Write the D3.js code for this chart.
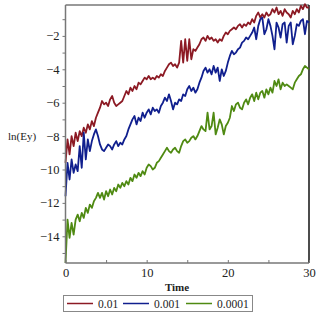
<!DOCTYPE html>
<html>
<head>
<script src="https://d3js.org/d3.v7.min.js"></script>
<style>
  body { margin: 0; background: #fff; }
  text { font-family: "Liberation Serif", "DejaVu Serif", serif; fill: #222; }
</style>
</head>
<body>
<svg id="chart" width="319" height="319"></svg>
<script>
// time step 0.25 from 0 to 30
var times = d3.range(0, 30.001, 0.25);

var red01 = [-9.6,-8.2,-9.1,-8.0,-8.6,-7.8,-8.3,-7.7,-8.0,-7.5,-7.8,-7.3,-7.6,-7.1,-7.4,-6.9,
  -6.6,-6.3,-5.9,-6.1,-6.0,-6.2,-5.8,-5.6,-6.0,-6.2,-6.1,-6.0,-5.9,-5.6,-5.3,-5.5,
  -5.1,-5.3,-5.0,-5.2,-4.8,-4.9,-4.7,-4.5,-4.6,-4.4,-4.6,-4.5,-4.6,-4.4,-4.5,-4.3,
  -4.4,-4.1,-3.9,-3.7,-3.6,-3.8,-3.7,-3.9,-3.6,-2.3,-3.6,-2.2,-3.5,-2.2,-3.4,-2.8,
  -2.9,-2.7,-2.5,-2.2,-2.1,-2.3,-2.0,-2.2,-2.1,-2.3,-2.2,-2.4,-2.2,-2.3,-2.0,-1.8,
  -1.9,-1.7,-1.6,-1.5,-1.6,-1.4,-1.3,-1.5,-1.3,-1.4,-1.2,-1.3,-1.0,-1.2,-0.8,-0.6,
  -0.9,-0.7,-0.9,-0.6,-0.8,-0.7,-0.4,-0.6,-0.3,-0.7,-0.5,-0.8,-0.4,-0.6,-0.7,-0.9,
  -0.5,-0.7,-0.4,-0.6,-0.2,-0.4,-0.1,-0.3,-0.3];

var blue001 = [-11.6,-9.6,-10.6,-9.4,-10.2,-9.7,-10.1,-8.6,-9.9,-7.8,-9.4,-8.2,-8.9,-8.3,-7.9,-7.6,
  -8.0,-8.5,-8.8,-8.9,-8.7,-8.5,-8.6,-8.8,-8.5,-8.3,-8.6,-8.4,-8.5,-8.2,-8.0,-7.6,
  -7.3,-7.0,-6.8,-7.3,-6.9,-7.1,-6.6,-6.9,-6.6,-6.4,-6.7,-6.3,-6.5,-6.4,-6.6,-6.2,
  -6.0,-5.7,-5.9,-5.5,-5.9,-6.4,-6.0,-6.1,-5.8,-5.9,-5.5,-5.6,-5.2,-5.0,-5.3,-5.1,
  -5.4,-5.2,-4.8,-4.5,-4.1,-3.9,-4.2,-4.0,-4.3,-3.8,-4.2,-3.9,-4.7,-4.0,-4.4,-4.1,
  -3.6,-3.2,-2.9,-3.1,-3.0,-2.8,-2.7,-2.4,-2.3,-2.1,-2.2,-2.0,-1.8,-1.5,-2.2,-1.4,
  -1.0,-0.9,-1.9,-1.6,-1.0,-1.4,-2.0,-2.8,-1.2,-1.5,-2.1,-1.3,-1.2,-2.4,-1.4,-1.2,
  -2.5,-2.0,-1.3,-1.4,-1.1,-1.0,-1.9,-1.1,-1.2];

var green0001 = [-15.6,-13.0,-14.1,-13.2,-13.9,-13.0,-12.7,-13.1,-12.6,-12.9,-12.3,-12.6,-12.1,-12.3,-11.9,-11.7,
  -11.4,-11.7,-11.4,-11.8,-11.3,-11.6,-11.2,-11.5,-11.1,-11.3,-10.9,-11.1,-10.8,-11.0,-10.7,-10.9,
  -10.5,-10.7,-10.3,-10.5,-10.2,-10.4,-10.1,-10.3,-9.9,-9.7,-9.8,-10.0,-9.9,-9.6,-9.5,-9.3,
  -9.1,-8.9,-8.7,-8.9,-9.0,-8.8,-8.7,-8.9,-9.0,-8.6,-8.3,-8.2,-8.4,-8.3,-8.1,-8.0,
  -8.2,-8.0,-7.7,-7.4,-7.6,-7.7,-6.6,-7.6,-7.4,-6.6,-7.9,-7.5,-7.0,-7.3,-7.9,-7.4,
  -7.2,-6.9,-6.2,-6.5,-6.1,-6.0,-6.3,-6.4,-6.0,-5.8,-6.1,-5.7,-5.5,-5.9,-5.4,-5.8,
  -5.4,-5.3,-5.7,-5.2,-5.5,-5.1,-5.4,-4.7,-5.0,-4.6,-5.2,-4.8,-5.0,-4.9,-5.0,-5.1,
  -5.2,-4.8,-4.6,-4.4,-4.3,-4.0,-3.8,-3.9,-4.0];

var seriesNames = ["0.01", "0.001", "0.0001"];
var seriesColors = ["#8c1a24", "#101f8e", "#4f8a12"];
var seriesData = [red01, blue001, green0001];

var yMajor = [-14, -12, -10, -8, -6, -4, -2];
var xMajor = [0, 10, 20, 30];

var svg = d3.select("#chart");
var margin = {left: 65.5, right: 309, top: 5, bottom: 263};

var x = d3.scaleLinear().domain([0, 30]).range([margin.left, margin.right]);
var y = d3.scaleLinear().domain([-15.6, -0.15]).range([margin.bottom, margin.top]);

// frame: top gray, right black
svg.append("line").attr("x1", margin.left).attr("x2", margin.right)
  .attr("y1", margin.top).attr("y2", margin.top)
  .attr("stroke", "#777").attr("stroke-width", 1.5);
svg.append("line").attr("x1", margin.right).attr("x2", margin.right)
  .attr("y1", margin.top).attr("y2", margin.bottom)
  .attr("stroke", "#111").attr("stroke-width", 1.5);

// lines
var line = d3.line()
  .x(function(d, i) { return x(times[i]); })
  .y(function(d) { return y(d); });

seriesData.forEach(function(s, k) {
  svg.append("path")
    .datum(s)
    .attr("fill", "none")
    .attr("stroke", seriesColors[k])
    .attr("stroke-width", 1.8)
    .attr("stroke-linejoin", "round")
    .attr("d", line);
});

// y axis
var yAxis = d3.axisLeft(y)
  .tickValues(d3.range(-15, -0.5, 1))
  .tickSize(3)
  .tickFormat(function(d) { return yMajor.indexOf(d) >= 0 ? "\u2212" + Math.abs(d) : ""; });
var gy = svg.append("g").attr("transform", "translate(" + margin.left + ",0)").call(yAxis);
gy.select(".domain").attr("stroke", "#777").attr("stroke-width", 1.5).attr("d", "M0," + margin.top + "V" + margin.bottom);
gy.selectAll(".tick line").attr("stroke", "#777");
gy.selectAll(".tick text").attr("font-size", 12.5).attr("font-family", "Liberation Serif").attr("fill", "#222").attr("x", -6);

// x axis
var xAxis = d3.axisBottom(x)
  .tickValues(d3.range(0, 30.1, 5))
  .tickSize(-3)
  .tickFormat(function(d) { return xMajor.indexOf(d) >= 0 ? d : ""; });
var gx = svg.append("g").attr("transform", "translate(0," + margin.bottom + ")").call(xAxis);
gx.select(".domain").attr("stroke", "#777").attr("stroke-width", 1.5).attr("d", "M" + margin.left + ",0H" + margin.right);
gx.selectAll(".tick line").attr("stroke", "#777");
gx.selectAll(".tick text").attr("font-size", 12.5).attr("font-family", "Liberation Serif").attr("fill", "#222").attr("y", 5);

// axis titles
svg.append("text").attr("x", 8).attr("y", 140).attr("font-size", 11).text("ln(Ey)");
svg.append("text").attr("x", 177).attr("y", 291).attr("text-anchor", "middle")
  .attr("font-size", 11).attr("font-weight", "bold").text("Time");

// legend
var legend = svg.append("g");
legend.append("rect").attr("x", 63.5).attr("y", 295.5).attr("width", 189).attr("height", 16)
  .attr("fill", "none").attr("stroke", "#888").attr("stroke-width", 1);
var legX = [67, 123, 186];
seriesNames.forEach(function(n, k) {
  legend.append("line").attr("x1", legX[k]).attr("x2", legX[k] + 26)
    .attr("y1", 303.5).attr("y2", 303.5)
    .attr("stroke", seriesColors[k]).attr("stroke-width", 1.5);
  legend.append("text").attr("x", legX[k] + 31).attr("y", 308)
    .attr("font-size", 11.5).text(n);
});
</script>
</body>
</html>
